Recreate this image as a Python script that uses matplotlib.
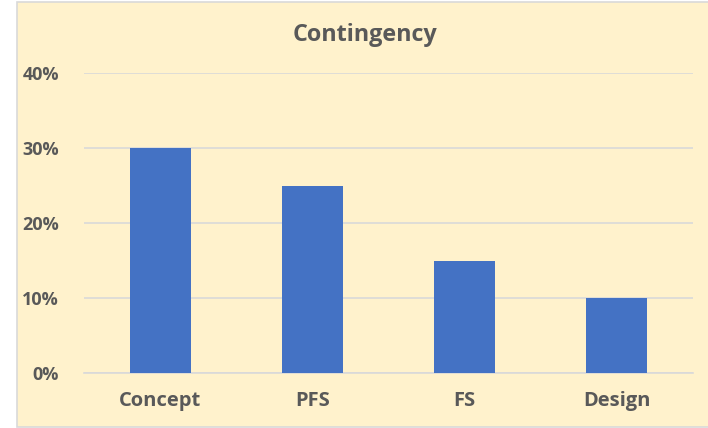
import matplotlib
matplotlib.use("Agg")
import matplotlib.pyplot as plt
from matplotlib.patches import Rectangle
from matplotlib.ticker import FuncFormatter

categories = ["Concept", "PFS", "FS", "Design"]
values = [0.30, 0.25, 0.15, 0.10]
yticks = [0.0, 0.1, 0.2, 0.3, 0.4]

plt.rcParams['font.family'] = ['Open Sans', 'DejaVu Sans']
W, H = 708, 428
fig = plt.figure(figsize=(W/100, H/100), dpi=100)
fig.patch.set_facecolor("white")
fig.patches.append(Rectangle((16.5/W, 1.5/H), (W + 5 - 16.5)/W, (H - 3.5)/H,
                             transform=fig.transFigure, facecolor="#FFF2CC",
                             edgecolor="#D9D9D9", linewidth=1.2, zorder=-10))

ax = fig.add_axes([84/W, 1 - 373/H, (693 - 84)/W, (373 - 73)/H])
ax.set_zorder(5)
ax.set_facecolor("none")
x = range(len(categories))
ax.bar(x, values, width=0.4, color="#4472C4", zorder=3)
ax.set_xlim(-0.5, len(categories) - 0.5)
ax.set_ylim(0, 0.4)
ax.set_yticks(yticks)
ax.yaxis.set_major_formatter(FuncFormatter(lambda v, p: f"{v*100:.0f}%"))
ax.set_xticks(list(x))
ax.set_xticklabels(categories)
ax.grid(axis="y", color="#D9D9D9", linewidth=1.2, zorder=0)
ax.set_axisbelow(True)
for s in ["top", "right", "left"]:
    ax.spines[s].set_visible(False)
ax.spines["bottom"].set_color("#D9D9D9")
ax.spines["bottom"].set_linewidth(1.2)
ax.tick_params(axis="both", length=0, colors="#595959")
ax.tick_params(axis="y", labelsize=13, pad=18)
ax.tick_params(axis="x", labelsize=14.5, pad=13)
for t in ax.get_yticklabels() + ax.get_xticklabels():
    t.set_fontweight("bold")
fig.text(365/W, 1 - 35/H, "Contingency", ha="center", va="center",
         fontsize=16.8, fontweight="bold", color="#595959")

fig.savefig("out.png", dpi=100, facecolor=fig.get_facecolor())
